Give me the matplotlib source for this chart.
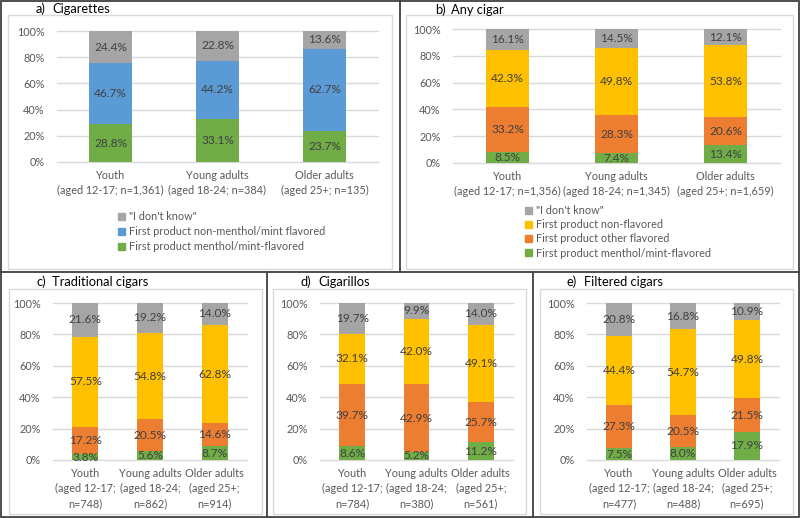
import matplotlib
matplotlib.use('Agg')
import matplotlib.pyplot as plt
from matplotlib.patches import Rectangle, Patch
from matplotlib.lines import Line2D

plt.rcParams['font.family'] = ['Lato', 'DejaVu Sans']

W, H = 800, 518

# colours of the segments
c_menthol = '#70ad47'
c_other = '#ed7d31'
c_nonflav = '#ffc000'
c_nonmenthol = '#5b9bd5'
c_idk = '#a5a5a5'

# a) Cigarettes
cig_labels = ['Youth\n(aged 12-17; n=1,361)', 'Young adults\n(aged 18-24; n=384)',
              'Older adults\n(aged 25+; n=135)']
cig_menthol = [28.8, 33.1, 23.7]
cig_nonmenthol = [46.7, 44.2, 62.7]
cig_idk = [24.4, 22.8, 13.6]

# b) Any cigar
any_labels = ['Youth\n(aged 12-17; n=1,356)', 'Young adults\n(aged 18-24; n=1,345)',
              'Older adults\n(aged 25+; n=1,659)']
any_menthol = [8.5, 7.4, 13.4]
any_other = [33.2, 28.3, 20.6]
any_nonflav = [42.3, 49.8, 53.8]
any_idk = [16.1, 14.5, 12.1]

# c) Traditional cigars
trad_labels = ['Youth\n(aged 12-17;\nn=748)', 'Young adults\n(aged 18-24;\nn=862)',
               'Older adults\n(aged 25+;\nn=914)']
trad_menthol = [3.8, 5.6, 8.7]
trad_other = [17.2, 20.5, 14.6]
trad_nonflav = [57.5, 54.8, 62.8]
trad_idk = [21.6, 19.2, 14.0]

# d) Cigarillos
cgl_labels = ['Youth\n(aged 12-17;\nn=784)', 'Young adults\n(aged 18-24;\nn=380)',
              'Older adults\n(aged 25+;\nn=561)']
cgl_menthol = [8.6, 5.2, 11.2]
cgl_other = [39.7, 42.9, 25.7]
cgl_nonflav = [32.1, 42.0, 49.1]
cgl_idk = [19.7, 9.9, 14.0]

# e) Filtered cigars
filt_labels = ['Youth\n(aged 12-17;\nn=477)', 'Young adults\n(aged 18-24;\nn=488)',
               'Older adults\n(aged 25+;\nn=695)']
filt_menthol = [7.5, 8.0, 17.9]
filt_other = [27.3, 20.5, 21.5]
filt_nonflav = [44.4, 54.7, 49.8]
filt_idk = [20.8, 16.8, 10.9]

leg_cig = ['"I don\'t know"', 'First product non-menthol/mint flavored',
           'First product menthol/mint-flavored']
leg_cigar = ['"I don\'t know"', 'First product non-flavored',
             'First product other flavored', 'First product menthol/mint-flavored']

fig = plt.figure(figsize=(W / 100, H / 100), dpi=100)


def px_axes(x0, y0, x1, y1):
    return fig.add_axes([x0 / W, 1 - y1 / H, (x1 - x0) / W, (y1 - y0) / H])


def frame(x0, y0, x1, y1, color, lw):
    fig.add_artist(Rectangle((x0 / W, 1 - y1 / H), (x1 - x0) / W, (y1 - y0) / H,
                             transform=fig.transFigure, fill=False,
                             edgecolor=color, lw=lw))


def hline(x0, x1, y, color, lw):
    fig.add_artist(Line2D([x0 / W, x1 / W], [1 - y / H, 1 - y / H],
                          transform=fig.transFigure, color=color, lw=lw))


def vline(x, y0, y1, color, lw):
    fig.add_artist(Line2D([x / W, x / W], [1 - y0 / H, 1 - y1 / H],
                          transform=fig.transFigure, color=color, lw=lw))


def stacked(ax, labels, series, colors):
    x = range(len(labels))
    bottom = [0] * len(labels)
    for vals, col in zip(series, colors):
        bars = ax.bar(x, vals, width=0.4, bottom=bottom, color=col, zorder=2)
        ax.bar_label(bars, fmt='%.1f%%', label_type='center', color='#404040',
                     fontsize=8.6)
        bottom = [b + v for b, v in zip(bottom, vals)]
    ax.set_xlim(-0.5, len(labels) - 0.5)
    ax.set_ylim(0, 100)
    ax.set_yticks(range(0, 101, 20))
    ax.set_yticklabels([f'{t}%' for t in range(0, 101, 20)])
    ax.set_xticks(list(x))
    ax.set_xticklabels(labels, linespacing=1.45)
    ax.tick_params(length=0, colors='#595959', labelsize=7.8)
    ax.tick_params(axis='y', pad=9)
    ax.tick_params(axis='x', pad=6)
    for s in ax.spines.values():
        s.set_visible(False)
    ax.yaxis.grid(True, color='#d9d9d9', lw=1)
    for g in ax.get_ygridlines():
        g.set_clip_on(False)
    ax.set_axisbelow(True)


def title(x_letter, x_text, y, letter, text):
    fig.text(x_letter / W, 1 - y / H, letter, ha='right', va='center',
             fontsize=9.3, color='black')
    fig.text(x_text / W, 1 - y / H, text, ha='left', va='center',
             fontsize=9.3, color='black')


# outer frames and dividers
frame(1, 1, 799, 517, '#404040', 1.3)
hline(0, 800, 272, '#404040', 1.3)
vline(400, 0, 272, '#404040', 1.3)
vline(267, 272, 518, '#404040', 1.3)
vline(533, 272, 518, '#404040', 1.3)

# inner chart areas
frame(8, 15, 392, 269, '#d9d9d9', 1)
frame(406, 15, 793, 269, '#d9d9d9', 1)
frame(9, 289, 262, 514, '#d9d9d9', 1)
frame(273, 289, 526, 514, '#d9d9d9', 1)
frame(540, 289, 793, 514, '#d9d9d9', 1)

# a) Cigarettes
ax = px_axes(57, 31, 378, 162)
stacked(ax, cig_labels, [cig_menthol, cig_nonmenthol, cig_idk],
        [c_menthol, c_nonmenthol, c_idk])
title(46, 52, 9, 'a)', 'Cigarettes')
h = [Patch(color=c) for c in [c_idk, c_nonmenthol, c_menthol]]
fig.legend(h, leg_cig, loc='upper left', bbox_to_anchor=(118 / W, 1 - 211 / H),
           frameon=False, fontsize=7.8, handlelength=0.6, handleheight=0.6,
           handletextpad=0.4, labelspacing=0.38, borderpad=0, borderaxespad=0,
           labelcolor='#595959')

# b) Any cigar
ax = px_axes(453, 29, 780, 163)
stacked(ax, any_labels, [any_menthol, any_other, any_nonflav, any_idk],
        [c_menthol, c_other, c_nonflav, c_idk])
title(446, 451, 10, 'b)', 'Any cigar')
h = [Patch(color=c) for c in [c_idk, c_nonflav, c_other, c_menthol]]
fig.legend(h, leg_cigar, loc='upper left', bbox_to_anchor=(525 / W, 1 - 205 / H),
           frameon=False, fontsize=7.8, handlelength=0.6, handleheight=0.6,
           handletextpad=0.4, labelspacing=0.3, borderpad=0, borderaxespad=0,
           labelcolor='#595959')

# c) Traditional cigars
ax = px_axes(53, 303, 247, 460)
stacked(ax, trad_labels, [trad_menthol, trad_other, trad_nonflav, trad_idk],
        [c_menthol, c_other, c_nonflav, c_idk])
title(46, 52, 282, 'c)', 'Traditional cigars')

# d) Cigarillos
ax = px_axes(320, 303, 513, 460)
stacked(ax, cgl_labels, [cgl_menthol, cgl_other, cgl_nonflav, cgl_idk],
        [c_menthol, c_other, c_nonflav, c_idk])
title(311, 318, 282, 'd)', 'Cigarillos')

# e) Filtered cigars
ax = px_axes(587, 303, 779, 460)
stacked(ax, filt_labels, [filt_menthol, filt_other, filt_nonflav, filt_idk],
        [c_menthol, c_other, c_nonflav, c_idk])
title(577, 584, 282, 'e)', 'Filtered cigars')

fig.savefig('out.png', dpi=100)
